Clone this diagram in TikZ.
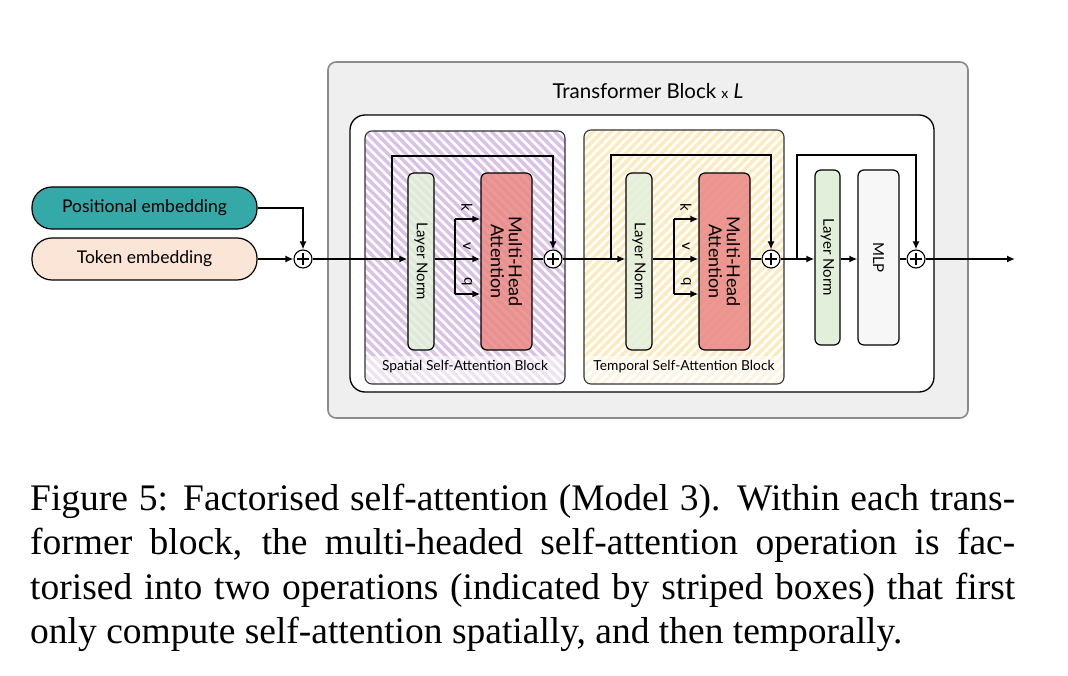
\documentclass[tikz,border=0pt]{standalone}
\usepackage{fontspec}
\setmainfont{Liberation Serif}
\newfontfamily\diagfont{Lato}
\usetikzlibrary{arrows.meta,calc}
\definecolor{outerfill}{HTML}{EFEFEF}
\definecolor{outerdraw}{HTML}{8A8A8A}
\definecolor{tealc}{HTML}{35A8A8}
\definecolor{tokenc}{HTML}{FBE5D6}
\definecolor{lnc}{HTML}{E2EFDA}
\definecolor{mhac}{HTML}{EA8A86}
\definecolor{mlpc}{HTML}{F7F7F7}
\definecolor{purp}{HTML}{D9C2E6}
\definecolor{yell}{HTML}{FDEBBE}
\definecolor{blockdraw}{HTML}{333333}
\tikzset{
  arr/.style={line width=1.6pt,-{Latex[length=8pt,width=7pt]}},
  ln/.style={line width=1.6pt},
  embbox/.style={draw,line width=1.2pt,rounded corners=20pt,minimum width=225pt,minimum height=42pt,font=\diagfont\fontsize{17.5}{20}\selectfont},
  vbox/.style={draw,line width=1.2pt,rounded corners=6pt,inner sep=0pt},
  vtext/.style={rotate=-90,font=\diagfont\fontsize{15}{16}\selectfont},
  mtext/.style={rotate=-90,align=center,font=\diagfont\fontsize{18}{18}\selectfont},
  kvq/.style={rotate=-90,font=\diagfont\fontsize{15}{16}\selectfont},
  blabel/.style={font=\diagfont\fontsize{13.8}{15}\selectfont},
  plusnode/.style={circle,draw,line width=1.1pt,fill=white,minimum size=18pt,inner sep=0pt,
    path picture={\draw[line width=1.1pt] ([yshift=-3pt]path picture bounding box.north) -- ([yshift=3pt]path picture bounding box.south);
                  \draw[line width=1.1pt] ([xshift=3pt]path picture bounding box.west) -- ([xshift=-3pt]path picture bounding box.east);}},
  captext/.style={anchor=base west,inner sep=0pt,font=\fontsize{37.5}{44}\selectfont}
}
\begin{document}
\begin{tikzpicture}[x=1pt,y=-1pt]
\useasboundingbox (0,0) rectangle (1068,676);
% outer transformer block
\draw[fill=outerfill,draw=outerdraw,line width=1.6pt,rounded corners=8pt] (328,62) rectangle (968,418);
\node[font=\diagfont\fontsize{20.5}{22}\selectfont] (title) at (648,91) {Transformer Block {\fontsize{14}{16}\selectfont x} \textit{L}};
\draw[fill=white,line width=1.3pt,rounded corners=15pt] (350,115) rectangle (934,392);
% spatial block hatch
\begin{scope}
\clip[rounded corners=7pt] (365,131) rectangle (565,384);
\fill[white] (365,131) rectangle (565,384);
\foreach \i in {-270,-261,...,210} \draw[purp,line width=3.4pt] (365+\i,131) -- ++(260,260);
\fill[white,opacity=0.55] (365,356) rectangle (565,384);
\end{scope}
\draw[blockdraw,line width=1.1pt,rounded corners=7pt] (365,131) rectangle (565,384);
\node[blabel] (sl) at (465,367) {Spatial Self-Attention Block};
% temporal block hatch
\begin{scope}
\clip[rounded corners=7pt] (584,130) rectangle (784,384);
\fill[white] (584,130) rectangle (784,384);
\foreach \i in {-270,-261,...,210} \draw[yell,line width=3.4pt] (584+\i,384) -- ++(260,-260);
\fill[white,opacity=0.55] (584,356) rectangle (784,384);
\end{scope}
\draw[blockdraw,line width=1.1pt,rounded corners=7pt] (584,130) rectangle (784,384);
\node[blabel] (tl) at (684,367) {Temporal Self-Attention Block};
% embeddings
\node[embbox,fill=tealc] (pe) at (144.5,208) {Positional embedding};
\node[embbox,fill=tokenc] (te) at (144.5,259) {Token embedding};
\node[plusnode] (p0) at (303,259) {};
% spatial block contents
\node[vbox,fill=lnc,fill opacity=0.85,text opacity=1,minimum width=26pt,minimum height=177pt] (ln1) at (421,261.5) {};
\node[vtext] at (ln1) {Layer Norm};
\node[vbox,fill=mhac,fill opacity=0.88,text opacity=1,minimum width=51pt,minimum height=177pt] (mha1) at (506.5,261.5) {};
\node[mtext] at (mha1) {Multi-Head\\Attention};
\node[plusnode] (p1) at (553,259) {};
% temporal block contents
\node[vbox,fill=lnc,fill opacity=0.85,text opacity=1,minimum width=26pt,minimum height=177pt] (ln2) at (639,261.5) {};
\node[vtext] at (ln2) {Layer Norm};
\node[vbox,fill=mhac,fill opacity=0.88,text opacity=1,minimum width=51pt,minimum height=177pt] (mha2) at (724.5,261.5) {};
\node[mtext] at (mha2) {Multi-Head\\Attention};
\node[plusnode] (p2) at (771,259) {};
% mlp part
\node[vbox,fill=lnc,minimum width=25pt,minimum height=175pt] (ln3) at (827.5,257.5) {};
\node[vtext] at (ln3) {Layer Norm};
\node[vbox,fill=mlpc,minimum width=41pt,minimum height=175pt] (mlp) at (878.5,257.5) {};
\node[vtext] at (mlp) {MLP};
\node[plusnode] (p3) at (916,259) {};
% coordinates
\coordinate (s1) at (392,259);
\coordinate (t1) at (553,156);
\coordinate (k1) at (455,219);
\coordinate (v1) at (455,259);
\coordinate (q1) at (455,294);
\coordinate (s2) at (611,259);
\coordinate (t2) at (771,155);
\coordinate (k2) at (674,219);
\coordinate (v2) at (674,259);
\coordinate (q2) at (674,294);
\coordinate (s3) at (797,259);
\coordinate (t3) at (916,155);
\coordinate (out) at (1015,259);
% connectors
\draw[arr] (pe.east) -| (p0.north);
\draw[arr] (te.east |- p0) -- (p0.west);
\draw[arr] (p0.east) -- (p0 -| ln1.west);
\draw[arr] (s1) |- (t1) -- (p1.north);
\draw[arr] (v1 -| ln1.east) -- (v1 -| mha1.west);
\draw[ln] (k1) -- (q1);
\draw[arr] (k1) -- (k1 -| mha1.west);
\draw[arr] (q1) -- (q1 -| mha1.west);
\draw[ln] (p1 -| mha1.east) -- (p1.west);
\node[kvq] at (467,207) {k};
\node[kvq] at (467,246) {v};
\node[kvq] at (467,282) {q};
\draw[arr] (p1.east) -- (p1 -| ln2.west);
\draw[arr] (s2) |- (t2) -- (p2.north);
\draw[arr] (v2 -| ln2.east) -- (v2 -| mha2.west);
\draw[ln] (k2) -- (q2);
\draw[arr] (k2) -- (k2 -| mha2.west);
\draw[arr] (q2) -- (q2 -| mha2.west);
\draw[ln] (p2 -| mha2.east) -- (p2.west);
\node[kvq] at (686,207) {k};
\node[kvq] at (686,246) {v};
\node[kvq] at (686,282) {q};
\draw[arr] (p2.east) -- (p2 -| ln3.west);
\draw[arr] (s3) |- (t3) -- (p3.north);
\draw[arr] (p2 -| ln3.east) -- (p2 -| mlp.west);
\draw[ln] (p3 -| mlp.east) -- (p3.west);
\draw[arr] (p3.east) -- (out);
% caption
\node[captext] (c1) at (30,510) {\makebox[985pt][s]{Figure 5: Factorised self-attention (Model 3). Within each trans-}};
\node[captext] (c2) at (30,554.5) {\makebox[985pt][s]{former block, the multi-headed self-attention operation is fac-}};
\node[captext] (c3) at (30,599) {\makebox[985pt][s]{torised into two operations (indicated by striped boxes) that first}};
\node[captext] (c4) at (30,643.5) {only compute self-attention spatially, and then temporally.};
\end{tikzpicture}
\end{document}
